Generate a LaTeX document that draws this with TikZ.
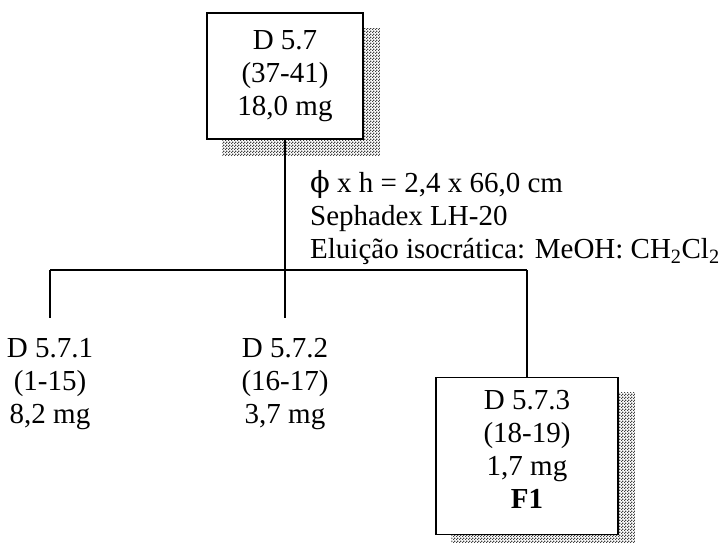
\documentclass[tikz,border=0pt]{standalone}
\usepackage{fontspec}
\setmainfont{Liberation Serif}
\newfontfamily\phifont{DejaVu Serif}
\usetikzlibrary{patterns,backgrounds}

\pgfdeclarepatternformonly{finechecker}{\pgfqpoint{0pt}{0pt}}{\pgfqpoint{3pt}{3pt}}{\pgfqpoint{3pt}{3pt}}{%
  \pgfpathrectangle{\pgfqpoint{0pt}{0pt}}{\pgfqpoint{1.5pt}{1.5pt}}%
  \pgfpathrectangle{\pgfqpoint{1.5pt}{1.5pt}}{\pgfqpoint{1.5pt}{1.5pt}}%
  \pgfusepath{fill}}

\begin{document}
\begin{tikzpicture}[
  x=1pt, y=-1pt,
  every node/.style={font=\fontsize{29}{33}\selectfont, align=center, inner sep=0pt},
  fracbox/.style={draw, line width=1.5pt, fill=white, minimum width=156pt, minimum height=126pt},
  boxshadow/.style={pattern=finechecker, pattern color=black!75},
  treeline/.style={line width=1.4pt}
]
  \useasboundingbox (0,0) rectangle (722,542);

  \node[fracbox] (d57) at (285,76) {D 5.7\\(37-41)\\18,0 mg};
  \node[anchor=west, align=left] (cond) at (310,218)
    {{\phifont ϕ} x h = 2,4 x 66,0 cm\\Sephadex LH-20\\Eluição isocrática: MeOH: CH\textsubscript{2}Cl\textsubscript{2}};

  \coordinate (split) at (285,270);
  \coordinate (lft) at (50,270);
  \coordinate (rgt) at (527,270);

  \node (d571) at (50,384) {D 5.7.1\\(1-15)\\8,2 mg};
  \node (d572) at (285,384) {D 5.7.2\\(16-17)\\3,7 mg};
  \node[fracbox, minimum width=182pt, minimum height=157pt] (d573) at (527,456)
    {D 5.7.3\\(18-19)\\1,7 mg\\\textbf{F1}\rule[-14pt]{0pt}{0pt}};

  \begin{scope}[on background layer]
    \fill[boxshadow] ([shift={(16pt,-16pt)}]d57.north west) rectangle ([shift={(16pt,-16pt)}]d57.south east);
    \fill[boxshadow] ([shift={(16pt,-16pt)}]d573.north west) rectangle ([shift={(16pt,-16pt)}]d573.south east);
  \end{scope}

  \draw[treeline] (d57.south) -- (split);
  \draw[treeline] (lft) -- (rgt);
  \draw[treeline, shorten >=20pt] (lft) -- (d571.north);
  \draw[treeline, shorten >=20pt] (split) -- (d572.north);
  \draw[treeline] (rgt) -- (d573.north);
\end{tikzpicture}
\end{document}
